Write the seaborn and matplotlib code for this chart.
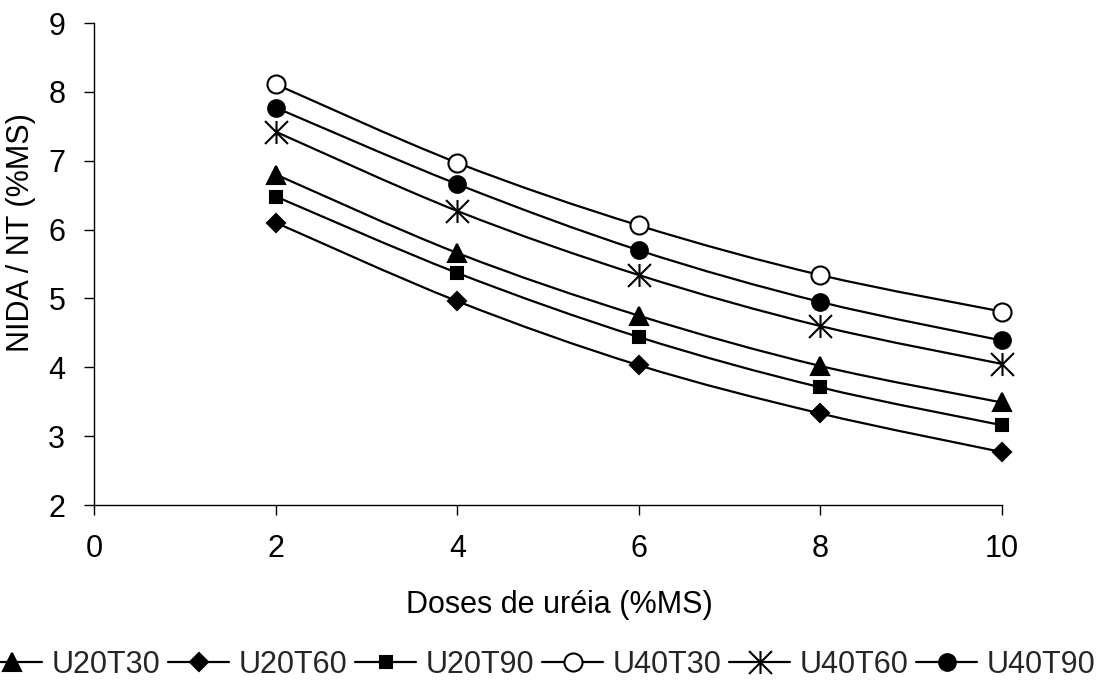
import numpy as np
import pandas as pd
import matplotlib
matplotlib.use("Agg")
import matplotlib.pyplot as plt
import seaborn as sns
from matplotlib.path import Path
from matplotlib.patches import PathPatch
from matplotlib.lines import Line2D

# Urea doses (% DM) and NIDA/NT values for each treatment
doses = [2, 4, 6, 8, 10]
series_names = ["U20T30", "U20T60", "U20T90", "U40T30", "U40T60", "U40T90"]
u20t30 = [6.80, 5.66, 4.75, 4.02, 3.49]
u20t60 = [6.10, 4.96, 4.03, 3.33, 2.77]
u20t90 = [6.48, 5.37, 4.44, 3.71, 3.16]
u40t30 = [8.11, 6.97, 6.06, 5.34, 4.81]
u40t60 = [7.42, 6.27, 5.34, 4.60, 4.05]
u40t90 = [7.77, 6.66, 5.70, 4.95, 4.39]
x_ticks = [0, 2, 4, 6, 8, 10]
y_ticks = [2, 3, 4, 5, 6, 7, 8, 9]

values = [u20t30, u20t60, u20t90, u40t30, u40t60, u40t90]
df = pd.DataFrame(
    [(name, d, v) for name, vals in zip(series_names, values) for d, v in zip(doses, vals)],
    columns=["serie", "dose", "nida"],
)

# asterisk marker: vertical bar plus an X
star = Path(
    [(0, -1), (0, 1), (-1, -1), (1, 1), (-1, 1), (1, -1)],
    [Path.MOVETO, Path.LINETO, Path.MOVETO, Path.LINETO, Path.MOVETO, Path.LINETO],
)

marker_style = {
    "U20T30": dict(marker="^", markersize=12.5, mfc="black"),
    "U20T60": dict(marker="D", markersize=9.0, mfc="black"),
    "U20T90": dict(marker="s", markersize=8.8, mfc="black"),
    "U40T30": dict(marker="o", markersize=13.0, mfc="white"),
    "U40T60": dict(marker=star, markersize=16.5, mfc="black"),
    "U40T90": dict(marker="o", markersize=12.0, mfc="black"),
}

FS = 22

sns.set_theme(style="white")
plt.rcParams["font.family"] = ["Liberation Sans", "DejaVu Sans"]

fig = plt.figure(figsize=(11.01, 6.89), dpi=100)
ax = fig.add_axes([0.0858, 0.267, 0.8240, 0.6996])


def smooth_path(xs, ys):
    """Bezier curve through the points (Catmull-Rom style control points)."""
    pts = np.column_stack([xs, ys]).astype(float)
    n = len(pts)
    verts = [pts[0]]
    codes = [Path.MOVETO]
    for i in range(n - 1):
        p0 = pts[i - 1] if i > 0 else pts[i]
        p1 = pts[i]
        p2 = pts[i + 1]
        p3 = pts[i + 2] if i + 2 < n else pts[i + 1]
        c1 = p1 + (p2 - p0) / 6.0
        c2 = p2 - (p3 - p1) / 6.0
        verts += [c1, c2, p2]
        codes += [Path.CURVE4] * 3
    return Path(verts, codes)


for name in series_names:
    sub = df[df["serie"] == name]
    ax.add_patch(PathPatch(smooth_path(sub["dose"], sub["nida"]), facecolor="none",
                           edgecolor="black", lw=1.6, zorder=2, clip_on=False))
    st = marker_style[name]
    sns.lineplot(data=sub, x="dose", y="nida", ax=ax, color="black", linestyle="none",
                 marker=st["marker"], markersize=st["markersize"],
                 markerfacecolor=st["mfc"], markeredgecolor="black",
                 markeredgewidth=1.5, zorder=3, legend=False, clip_on=False)

ax.set_xlim(0, 10)
ax.set_ylim(2, 9)
ax.set_xticks(x_ticks)
ax.set_yticks(y_ticks)
for side in ["top", "right"]:
    ax.spines[side].set_visible(False)
for side in ["left", "bottom"]:
    ax.spines[side].set_color("black")
    ax.spines[side].set_linewidth(1.0)
ax.tick_params(axis="both", which="major", direction="out", length=7, width=1.0,
               color="black", labelsize=FS, labelcolor="black", pad=14,
               bottom=True, left=True)
ax.grid(False)

ax.set_xlabel("Doses de uréia (%MS)", fontsize=FS, color="black")
ax.set_ylabel("NIDA / NT (%MS)", fontsize=FS, color="black")
ax.xaxis.set_label_coords(0.512, -0.176)
ax.yaxis.set_label_coords(-0.064, 0.565)

handles = []
for name in series_names:
    st = marker_style[name]
    handles.append(Line2D([], [], color="black", lw=1.6, marker=st["marker"],
                          markersize=st["markersize"], markerfacecolor=st["mfc"],
                          markeredgecolor="black", markeredgewidth=1.5))
fig.legend(handles, series_names, loc="center", bbox_to_anchor=(0.489, 0.035),
           ncol=6, frameon=False, fontsize=FS, handlelength=2.0,
           handletextpad=0.3, columnspacing=0.26, borderpad=0.0)

fig.savefig("out.png", dpi=100, facecolor="white")
